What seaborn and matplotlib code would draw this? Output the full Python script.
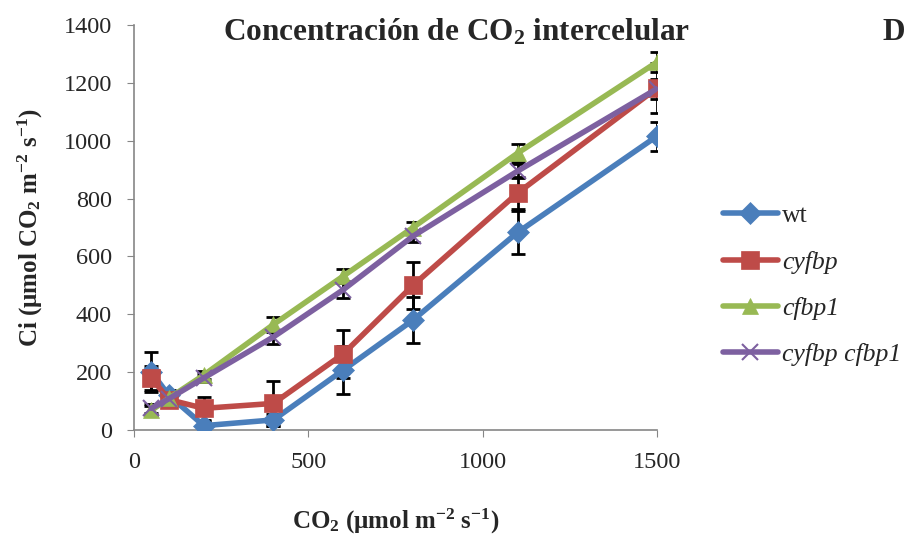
import pandas as pd
import numpy as np
import matplotlib
matplotlib.use('Agg')
import matplotlib.pyplot as plt
import seaborn as sns

co2 = [50, 100, 200, 400, 600, 800, 1100, 1500]
lineas = ['wt', 'cyfbp', 'cfbp1', 'cyfbp cfbp1']

ci_wt = [200, 120, 15, 35, 207, 380, 683, 1016]
ci_cyfbp = [180, 105, 75, 92, 263, 500, 819, 1182]
ci_cfbp1 = [68, 110, 190, 365, 532, 700, 957, 1272]
ci_doble = [75, 108, 180, 322, 485, 670, 895, 1180]

err_wt = [68, 20, 15, 20, 83, 80, 75, 50]
err_cyfbp = [40, 15, 40, 78, 83, 80, 55, 86]
err_cfbp1 = [15, 10, 15, 25, 25, 20, 30, 35]
err_doble = [15, 10, 15, 25, 30, 20, 25, 35]

valores = [ci_wt, ci_cyfbp, ci_cfbp1, ci_doble]
errores = [err_wt, err_cyfbp, err_cfbp1, err_doble]

df = pd.DataFrame({
    'CO2': co2 * 4,
    'Ci': sum(valores, []),
    'err': sum(errores, []),
    'Linea': [l for l in lineas for _ in co2],
})

colores = ['#4A7EBB', '#BE4B48', '#98B954', '#7D60A0']
marcadores = ['D', 's', '^', 'x']
tamanos = [11, 13, 12, 12]

sns.set_style('white')
plt.rcParams['font.family'] = ['Liberation Serif', 'DejaVu Serif']
plt.rcParams['mathtext.fontset'] = 'custom'
plt.rcParams['mathtext.rm'] = 'Liberation Serif'
plt.rcParams['mathtext.bf'] = 'Liberation Serif:bold'
plt.rcParams['mathtext.it'] = 'Liberation Serif:italic'

fig = plt.figure(figsize=(9.08, 5.38), dpi=100)
ax = fig.add_axes([0.1476, 0.2007, 0.576, 0.7528])

for i, l in enumerate(lineas):
    sub = df[df['Linea'] == l]
    ax.errorbar(sub['CO2'], sub['Ci'], yerr=sub['err'], fmt='none',
                ecolor='black', elinewidth=2, capsize=5, capthick=2, zorder=2)

for i, l in enumerate(lineas):
    sub = df[df['Linea'] == l]
    sns.lineplot(data=sub, x='CO2', y='Ci', ax=ax, color=colores[i],
                 marker=marcadores[i], markersize=tamanos[i],
                 markeredgecolor=colores[i],
                 markeredgewidth=1.5 if marcadores[i] == 'x' else 0.5,
                 linewidth=4, label=l, zorder=3)

ax.set_xlim(0, 1500)
ax.set_ylim(0, 1400)
ax.set_xticks([0, 500, 1000, 1500])
ax.set_yticks(range(0, 1401, 200))
ax.tick_params(axis='both', labelsize=17.5, direction='out', length=5,
               color='#868686', left=True, bottom=True, pad=11)
for s in ['top', 'right']:
    ax.spines[s].set_visible(False)
for s in ['left', 'bottom']:
    ax.spines[s].set_color('#868686')
    ax.spines[s].set_linewidth(1.2)

ax.set_xlabel(r'CO$_\mathbf{2}$ ($\mathbf{\mu}$mol m$^\mathbf{-2}$ s$^\mathbf{-1}$)',
              fontsize=18, fontweight='bold')
ax.xaxis.set_label_coords(0.5, -0.19)
ax.set_ylabel(r'Ci ($\mathbf{\mu}$mol CO$_\mathbf{2}$ m$^\mathbf{-2}$ s$^\mathbf{-1}$)',
              fontsize=18, fontweight='bold')
ax.yaxis.set_label_coords(-0.17, 0.5)

fig.text(0.503, 0.94, r'Concentración de CO$_\mathbf{2}$ intercelular',
         fontsize=22.5, fontweight='bold', ha='center', va='center')
fig.text(0.984, 0.94, 'D', fontsize=22.5, fontweight='bold', ha='center', va='center')

handles, labels = ax.get_legend_handles_labels()
ax.get_legend().remove()
leg = fig.legend(handles, labels, loc='upper left', bbox_to_anchor=(0.796, 0.62),
                 frameon=False, fontsize=18.5, handlelength=2.15, labelspacing=0.9,
                 handletextpad=0.15, borderaxespad=0, borderpad=0)
for t in leg.get_texts()[1:]:
    t.set_style('italic')

fig.savefig('out.png', dpi=100)
